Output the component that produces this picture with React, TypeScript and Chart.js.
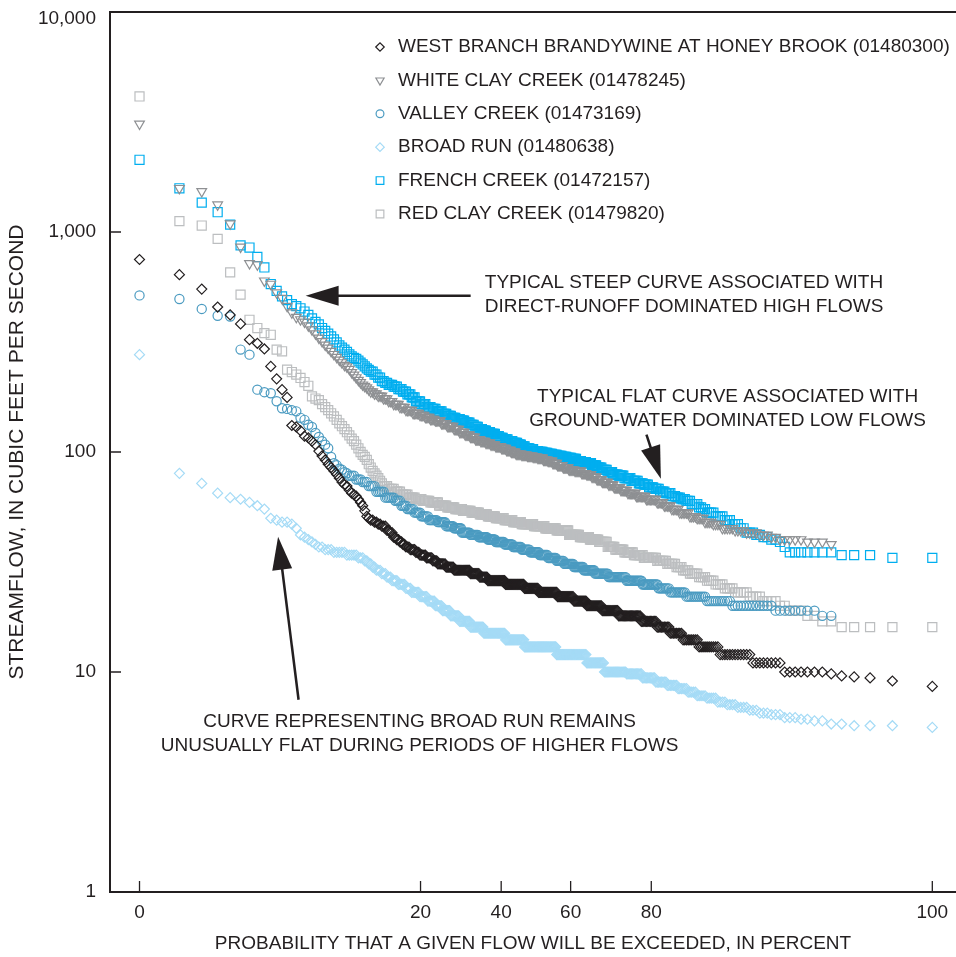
import React, { useEffect, useRef } from "react";
import { Chart, registerables } from "chart.js";
import { drawPoint } from "chart.js/helpers";

Chart.register(...registerables);

const INK = "#231f20";
const FONT_FAMILY = "'Liberation Sans', Arial, Helvetica, sans-serif";

// ---------- axes ----------
const DAYS_IN_RECORD = 365;
const xTickPercents = [0, 20, 40, 60, 80, 100];
const yTickFlows = [1, 10, 100, 1000, 10000];
const xAxisRangePercent = [0.0945, 99.891];
const yAxisRange = [1, 10000];

// ---------- data: [daily streamflow (ft3/s), number of days], ranked from highest to lowest ----------
const westBranchBrandywine: [number, number][] = [
  [750, 1], [640, 1], [550, 1], [456, 1], [420, 1], [382, 1], [324, 1], [312, 1], [294, 1], [245, 1],
  [215, 1], [192, 1], [177, 1], [132, 1], [130, 1], [125, 1], [118, 1], [116, 1], [112, 1], [108, 1],
  [101, 1], [96, 1], [92, 1], [88, 1], [85, 1], [82, 1], [79, 1], [76, 1], [73, 1], [71, 1],
  [70, 1], [67, 1], [65, 1], [64, 1], [63, 1], [61, 1], [59, 1], [57, 1], [54, 1], [51, 1],
  [50, 1], [49, 2], [48, 2], [47, 2], [46, 3], [44, 2], [43, 2], [41, 2], [40, 2], [39, 2],
  [38, 2], [37, 3], [36, 4], [35, 3], [34, 5], [33, 5], [32, 4], [31, 7], [30, 7], [29, 15],
  [28, 9], [27, 8], [26, 18], [25, 20], [24, 15], [23, 20], [22, 17], [21, 13], [20, 15], [19, 15],
  [18, 19], [17, 12], [16, 9], [15, 8], [14, 9], [13, 10], [12, 12], [11, 8], [10, 7], [9.8, 1],
  [9.6, 1], [9.5, 1], [9.4, 1], [9.1, 1], [8.6, 1],
];

const whiteClayCreek: [number, number][] = [
  [3100, 1], [1580, 1], [1530, 1], [1330, 1], [1090, 1], [855, 1], [720, 1], [710, 1], [600, 1], [580, 1],
  [530, 1], [500, 1], [460, 1], [430, 1], [410, 1], [400, 1], [390, 1], [375, 1], [360, 1], [345, 1],
  [330, 1], [318, 1], [307, 1], [297, 1], [287, 1], [278, 1], [270, 1], [262, 1], [255, 1], [248, 1],
  [244, 1], [238, 1], [230, 1], [224, 1], [218, 1], [212, 1], [207, 1], [202, 1], [199, 1], [196, 1],
  [192, 1], [188, 2], [184, 2], [180, 3], [175, 3], [170, 3], [165, 4], [160, 4], [155, 5], [150, 5],
  [147, 4], [144, 4], [141, 4], [139, 5], [135, 5], [131, 6], [127, 5], [123, 5], [120, 5], [117, 5],
  [114, 5], [112, 5], [110, 5], [108, 5], [106, 6], [104, 5], [102, 5], [100, 5], [98, 6], [97, 6],
  [96, 6], [95, 5], [94, 6], [92, 5], [91, 5], [89, 5], [87, 6], [85, 6], [83, 6], [82, 7],
  [80, 5], [79, 5], [77, 5], [75, 5], [73, 6], [71, 5], [69, 6], [67, 6], [65, 7], [63, 8],
  [61, 8], [59, 5], [57, 5], [55, 5], [53, 6], [51, 4], [50, 4], [48, 4], [47, 4], [45, 5],
  [44, 4], [43, 4], [42, 3], [41, 2], [40, 5], [39, 3], [38, 1],
];

const valleyCreek: [number, number][] = [
  [515, 1], [496, 1], [447, 1], [416, 1], [413, 1], [292, 1], [277, 1], [192, 1], [187, 1], [185, 1],
  [170, 1], [158, 1], [157, 1], [155, 1], [153, 1], [143, 1], [140, 1], [133, 1], [130, 1], [122, 1],
  [117, 1], [112, 1], [108, 1], [104, 1], [95, 1], [89, 1], [87, 1], [84, 1], [83, 1], [81, 1],
  [80, 1], [78, 3], [75, 3], [73, 3], [70, 4], [66, 5], [62, 6], [60, 4], [57, 4], [55, 5],
  [53, 5], [51, 6], [49, 7], [48, 7], [46, 7], [45, 7], [43, 8], [42, 8], [41, 9], [40, 8],
  [39, 9], [38, 9], [37, 9], [36, 9], [35, 10], [34, 9], [33, 9], [32, 8], [31, 10], [30, 10],
  [29, 11], [28, 13], [27, 16], [26, 13], [25, 12], [24, 8], [23, 10], [22, 11], [21, 11], [20, 13],
  [19, 8], [18, 2],
];

const broadRun: [number, number][] = [
  [277, 1], [80, 1], [72, 1], [65, 1], [62, 1], [61, 1], [59, 1], [57, 1], [55, 1], [50, 1],
  [49, 1], [48, 1], [48, 1], [47, 1], [45, 1], [42, 1], [41, 1], [40, 1], [39, 1], [38, 1],
  [37, 2], [36, 3], [35, 5], [34, 5], [33, 3], [32, 2], [31, 2], [30, 2], [29, 3], [28, 3],
  [27, 3], [26, 4], [25, 5], [24, 4], [23, 6], [22, 6], [21, 6], [20, 6], [19, 7], [18, 8],
  [17, 10], [16, 13], [15, 22], [14, 20], [13, 34], [12, 31], [11, 17], [10, 20], [9.8, 13], [9.4, 10],
  [9.0, 8], [8.7, 7], [8.4, 6], [8.1, 5], [7.8, 5], [7.6, 5], [7.3, 4], [7.1, 4], [6.9, 4], [6.7, 3],
  [6.5, 3], [6.4, 3], [6.2, 3], [6.1, 2], [6.0, 2], [5.8, 2], [5.7, 3], [5.6, 1],
];

const frenchCreek: [number, number][] = [
  [2130, 1], [1580, 1], [1360, 1], [1230, 1], [1080, 1], [870, 1], [850, 1], [770, 1], [690, 1], [580, 1],
  [540, 1], [510, 1], [490, 1], [470, 1], [460, 1], [450, 1], [435, 1], [420, 1], [405, 1], [390, 1],
  [380, 1], [366, 1], [355, 1], [345, 1], [335, 1], [325, 1], [315, 1], [305, 1], [298, 1], [292, 1],
  [285, 1], [278, 1], [272, 1], [268, 1], [265, 1], [260, 1], [255, 1], [250, 1], [245, 1], [240, 1],
  [236, 1], [232, 2], [225, 2], [218, 2], [210, 2], [206, 2], [202, 3], [198, 3], [193, 3], [188, 3],
  [183, 3], [177, 3], [170, 4], [165, 4], [160, 4], [157, 4], [153, 5], [149, 4], [146, 4], [143, 4],
  [141, 4], [139, 4], [136, 5], [133, 4], [130, 4], [127, 4], [125, 4], [123, 4], [121, 5], [118, 4],
  [116, 4], [114, 5], [112, 5], [110, 5], [108, 4], [106, 4], [104, 5], [103, 4], [101, 5], [100, 5],
  [99, 5], [98, 5], [97, 5], [96, 5], [95, 5], [94, 5], [93, 5], [91, 5], [90, 5], [89, 5],
  [87, 5], [85, 5], [83, 5], [81, 5], [79, 5], [78, 5], [76, 6], [74, 6], [72, 4], [71, 4],
  [69, 4], [68, 4], [66, 4], [65, 4], [63, 3], [62, 3], [61, 3], [60, 3], [58, 4], [56, 2],
  [55, 2], [53, 4], [51, 4], [49, 3], [47, 3], [45, 2], [43, 3], [42, 2], [41, 2], [40, 2],
  [39, 1], [37, 1], [35, 7], [34, 3], [33, 2],
];

const redClayCreek: [number, number][] = [
  [4130, 1], [1120, 1], [1070, 1], [930, 1], [655, 1], [519, 1], [399, 1], [366, 1], [347, 1], [341, 1],
  [292, 1], [287, 1], [237, 1], [231, 1], [225, 1], [217, 1], [208, 1], [200, 1], [179, 1], [175, 1],
  [172, 1], [165, 1], [160, 1], [155, 1], [150, 1], [145, 1], [140, 1], [135, 1], [131, 1], [127, 1],
  [123, 1], [119, 1], [115, 1], [112, 1], [108, 1], [104, 1], [100, 1], [97, 1], [95, 1], [92, 1],
  [88, 1], [85, 1], [82, 1], [80, 1], [78, 1], [76, 1], [74, 1], [72, 1], [70, 3], [68, 4],
  [66, 4], [64, 5], [62, 5], [61, 5], [60, 6], [59, 7], [57, 7], [56, 7], [55, 7], [54, 8],
  [53, 8], [52, 8], [51, 8], [50, 9], [49, 9], [48, 9], [47, 13], [46, 12], [45, 12], [44, 13],
  [42, 11], [41, 10], [40, 9], [39, 8], [37, 7], [36, 8], [35, 8], [34, 8], [33, 10], [32, 7],
  [31, 6], [30, 4], [29, 4], [28, 5], [27, 4], [26, 4], [25, 4], [24, 4], [23, 5], [22, 4],
  [21, 4], [20, 2], [19, 3], [18, 2], [17, 2], [16, 5],
];

const seriesLabels = [
  "WEST BRANCH BRANDYWINE AT HONEY BROOK (01480300)",
  "WHITE CLAY CREEK (01478245)",
  "VALLEY CREEK (01473169)",
  "BROAD RUN (01480638)",
  "FRENCH CREEK (01472157)",
  "RED CLAY CREEK (01479820)",
];
const seriesTables = [westBranchBrandywine, whiteClayCreek, valleyCreek, broadRun, frenchCreek, redClayCreek];
const seriesColors = ["#231f20", "#8e9093", "#4b9bc1", "#a5dbf6", "#00aeef", "#bcbec0"];
const seriesPointStyles = ["rectRot", "triangle", "circle", "rectRot", "rect", "rect"];
const seriesPointRadius = [5, 5.6, 4.6, 5, 6.4, 6.4];
const seriesPointRotation = [0, 180, 0, 0, 0, 0];

// ---------- text annotations (anchored in data units: percent exceeded, flow) ----------
const annotationNotes = [
  { lines: ["TYPICAL STEEP CURVE ASSOCIATED WITH", "DIRECT-RUNOFF DOMINATED HIGH FLOWS"], pct: 86.0, flow: 590 },
  { lines: ["TYPICAL FLAT CURVE ASSOCIATED WITH", "GROUND-WATER DOMINATED LOW FLOWS"], pct: 91.9, flow: 178 },
  { lines: ["CURVE REPRESENTING BROAD RUN REMAINS", "UNUSUALLY FLAT DURING PERIODS OF HIGHER FLOWS"], pct: 19.8, flow: 5.94 },
];
const annotationArrows = [
  { from: [31.7, 513], to: [4.65, 513] },
  { from: [79.0, 120], to: [81.9, 75.6] },
  { from: [4.17, 7.48], to: [3.0, 41.2] },
];

// ---------- helpers ----------
function probit(p: number): number {
  const a = [-39.69683028665376, 220.9460984245205, -275.9285104469687, 138.357751867269, -30.66479806614716, 2.506628277459239];
  const b = [-54.47609879822406, 161.5858368580409, -155.6989798598866, 66.80131188771972, -13.28068155288572];
  const c = [-0.007784894002430293, -0.3223964580411365, -2.400758277161838, -2.549732539343734, 4.374664141464968, 2.938163982698783];
  const d = [0.007784695709041462, 0.3224671290700398, 2.445134137142996, 3.754408661907416];
  const pl = 0.02425;
  if (p < pl) {
    const q = Math.sqrt(-2 * Math.log(p));
    return (((((c[0] * q + c[1]) * q + c[2]) * q + c[3]) * q + c[4]) * q + c[5]) / ((((d[0] * q + d[1]) * q + d[2]) * q + d[3]) * q + 1);
  }
  if (p <= 1 - pl) {
    const q = p - 0.5;
    const r = q * q;
    return ((((((a[0] * r + a[1]) * r + a[2]) * r + a[3]) * r + a[4]) * r + a[5]) * q) / (((((b[0] * r + b[1]) * r + b[2]) * r + b[3]) * r + b[4]) * r + 1);
  }
  const q = Math.sqrt(-2 * Math.log(1 - p));
  return -(((((c[0] * q + c[1]) * q + c[2]) * q + c[3]) * q + c[4]) * q + c[5]) / ((((d[0] * q + d[1]) * q + d[2]) * q + d[3]) * q + 1);
}

// plotting position of a ranked daily value (median plotting position)
const plottingPosition = (rank: number) => (rank - 0.3) / (DAYS_IN_RECORD + 0.4);
const percentToAxis = (pct: number) => probit(pct / 100);
const tickToAxis = (pct: number) =>
  probit(Math.min(Math.max(pct / 100, plottingPosition(1)), plottingPosition(DAYS_IN_RECORD)));

function rankedPoints(table: [number, number][]) {
  const pts: { x: number; y: number }[] = [];
  let rank = 0;
  for (const [flow, days] of table) {
    for (let k = 0; k < days; k++) {
      rank += 1;
      pts.push({ x: probit(plottingPosition(rank)), y: flow });
    }
  }
  return pts;
}

function drawArrow(ctx: CanvasRenderingContext2D, x0: number, y0: number, x1: number, y1: number) {
  const ang = Math.atan2(y1 - y0, x1 - x0);
  const headLen = 33;
  const headHalf = 10;
  const bx = x1 - headLen * Math.cos(ang);
  const by = y1 - headLen * Math.sin(ang);
  ctx.beginPath();
  ctx.moveTo(x0, y0);
  ctx.lineTo(bx + 2 * Math.cos(ang), by + 2 * Math.sin(ang));
  ctx.lineWidth = 2.5;
  ctx.stroke();
  ctx.beginPath();
  ctx.moveTo(x1, y1);
  ctx.lineTo(bx + headHalf * Math.sin(ang), by - headHalf * Math.cos(ang));
  ctx.lineTo(bx - headHalf * Math.sin(ang), by + headHalf * Math.cos(ang));
  ctx.closePath();
  ctx.fill();
}

const decorPlugin = {
  id: "decor",
  afterDraw(chart: any) {
    const { ctx, chartArea: area, scales } = chart;
    const xs = scales.x;
    const ys = scales.y;
    ctx.save();
    // frame
    ctx.strokeStyle = INK;
    ctx.fillStyle = INK;
    ctx.lineWidth = 2;
    ctx.beginPath();
    ctx.moveTo(area.right, area.top);
    ctx.lineTo(area.left, area.top);
    ctx.lineTo(area.left, area.bottom);
    ctx.lineTo(area.right, area.bottom);
    ctx.stroke();
    // inward tick marks
    ctx.lineWidth = 1.3;
    ctx.beginPath();
    for (const v of yTickFlows) {
      const y = ys.getPixelForValue(v);
      ctx.moveTo(area.left, y);
      ctx.lineTo(area.left + 11, y);
    }
    for (const p of xTickPercents) {
      const x = xs.getPixelForValue(tickToAxis(p));
      ctx.moveTo(x, area.bottom);
      ctx.lineTo(x, area.bottom - 11);
    }
    ctx.stroke();
    // notes
    ctx.font = `19px ${FONT_FAMILY}`;
    ctx.textAlign = "center";
    ctx.textBaseline = "middle";
    for (const note of annotationNotes) {
      const x = xs.getPixelForValue(percentToAxis(note.pct));
      const y = ys.getPixelForValue(note.flow);
      note.lines.forEach((line, i) => ctx.fillText(line, x, y + i * 24));
    }
    for (const arrow of annotationArrows) {
      drawArrow(
        ctx,
        xs.getPixelForValue(percentToAxis(arrow.from[0])),
        ys.getPixelForValue(arrow.from[1]),
        xs.getPixelForValue(percentToAxis(arrow.to[0])),
        ys.getPixelForValue(arrow.to[1])
      );
    }
    // legend
    const symX = area.left + 270;
    const row0 = area.top + 35;
    const rowGap = 33.4;
    ctx.textAlign = "left";
    chart.data.datasets.forEach((ds: any, i: number) => {
      const y = row0 + i * rowGap;
      ctx.strokeStyle = ds.borderColor;
      ctx.fillStyle = "rgba(0,0,0,0)";
      ctx.lineWidth = 1.2;
      drawPoint(ctx, { pointStyle: ds.pointStyle, rotation: ds.pointRotation, radius: ds.pointRadius * 0.85, borderWidth: 1.2 }, symX, y);
      ctx.fillStyle = INK;
      ctx.fillText(ds.label, symX + 18, y);
    });
    ctx.restore();
  },
};

export default function App() {
  const canvasRef = useRef<HTMLCanvasElement>(null);

  useEffect(() => {
    const canvas = canvasRef.current;
    if (!canvas) return;
    const datasets = seriesLabels.map((label, i) => ({
      label,
      data: rankedPoints(seriesTables[i]),
      borderColor: seriesColors[i],
      backgroundColor: "rgba(0,0,0,0)",
      pointStyle: seriesPointStyles[i],
      pointRadius: seriesPointRadius[i],
      pointRotation: seriesPointRotation[i],
      pointBorderWidth: 1.2,
      pointBorderColor: seriesColors[i],
      pointBackgroundColor: "rgba(0,0,0,0)",
      showLine: false,
    }));
    const topFlow = yTickFlows[yTickFlows.length - 1];
    const chart = new Chart(canvas, {
      type: "scatter",
      data: { datasets },
      options: {
        animation: false,
        responsive: false,
        devicePixelRatio: 1,
        events: [],
        layout: { autoPadding: false, padding: { top: 12, left: 0, right: 0, bottom: 0 } },
        plugins: { legend: { display: false }, tooltip: { enabled: false } },
        scales: {
          x: {
            type: "linear",
            min: percentToAxis(xAxisRangePercent[0]),
            max: percentToAxis(xAxisRangePercent[1]),
            grid: { display: false, drawTicks: false },
            border: { display: false },
            afterFit: (scale: any) => {
              scale.height = 65;
              scale.paddingLeft = 0;
              scale.paddingRight = 0;
            },
            afterBuildTicks: (scale: any) => {
              scale.ticks = xTickPercents.map((p) => ({ value: tickToAxis(p) }));
            },
            ticks: {
              autoSkip: false,
              maxRotation: 0,
              padding: 9,
              color: INK,
              font: { family: FONT_FAMILY, size: 19 },
              callback: (_v: any, i: number) => String(xTickPercents[i]),
            },
            title: {
              display: true,
              text: "PROBABILITY THAT A GIVEN FLOW WILL BE EXCEEDED, IN PERCENT",
              color: INK,
              font: { family: FONT_FAMILY, size: 19 },
              padding: { top: 0, bottom: 2 },
            },
          },
          y: {
            type: "logarithmic",
            min: yAxisRange[0],
            max: yAxisRange[1],
            grid: { display: false, drawTicks: false },
            border: { display: false },
            afterFit: (scale: any) => {
              scale.width = 110;
              scale.paddingTop = 0;
              scale.paddingBottom = 0;
            },
            afterBuildTicks: (scale: any) => {
              scale.ticks = yTickFlows.map((v) => ({ value: v, major: true }));
            },
            ticks: {
              autoSkip: false,
              padding: 14,
              color: INK,
              font: { family: FONT_FAMILY, size: 19, lineHeight: 0.74 },
              // the top label sits just below the frame corner, as in the original figure
              callback: (v: any) => {
                const text = Number(v).toLocaleString("en-US");
                return Number(v) === topFlow ? ["", text] : text;
              },
            },
            title: {
              display: true,
              text: "STREAMFLOW, IN CUBIC FEET PER SECOND",
              color: INK,
              font: { family: FONT_FAMILY, size: 21 },
              padding: { top: 5, bottom: 0 },
            },
          },
        },
      },
      plugins: [decorPlugin],
    } as any);
    return () => chart.destroy();
  }, []);

  return (
    <div style={{ position: "absolute", left: 0, top: 0, width: 956, height: 957, background: "#fff" }}>
      <canvas ref={canvasRef} width={956} height={957} style={{ display: "block", width: 956, height: 957 }} />
    </div>
  );
}
